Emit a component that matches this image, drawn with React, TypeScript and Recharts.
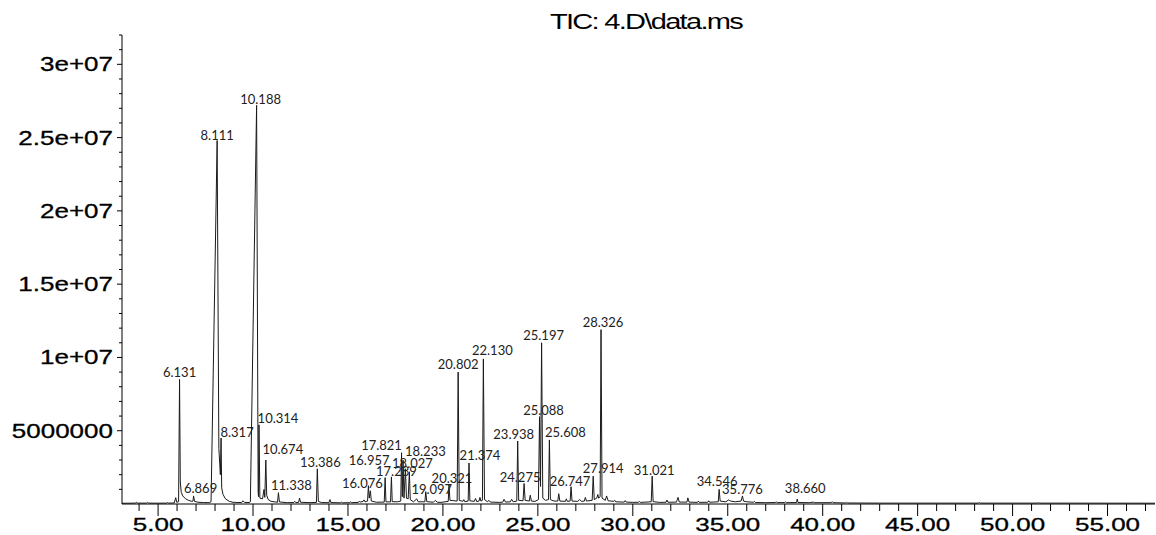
import React from 'react';
import { ComposedChart, Line, Scatter, XAxis, YAxis } from 'recharts';

// TIC trace: [retention time (min), abundance, peak label]
const trace: [number, number, string?][] = [
  [3.1, 50000], [3.8, 60000], [3.85, 120000], [3.9, 60000],
  [4.4, 60000], [4.45, 110000], [4.5, 60000], [5.0, 55000],
  [5.45, 60000], [5.5, 100000], [5.55, 60000],
  [5.85, 70000], [5.93, 430000], [5.98, 120000],
  [6.08, 150000], [6.131, 8500000, '6.131'], [6.17, 1500000], [6.22, 800000], [6.3, 550000],
  [6.45, 350000], [6.6, 250000], [6.78, 180000],
  [6.84, 200000], [6.869, 550000, '6.869'], [6.92, 180000],
  [7.1, 120000], [7.4, 100000], [7.7, 90000],
  [7.79, 150000], [8.111, 24800000, '8.111'], [8.2, 3800000], [8.28, 2000000],
  [8.317, 4500000, '8.317'], [8.35, 1100000], [8.42, 650000], [8.55, 350000], [8.75, 180000],
  [9.0, 100000], [9.05, 130000], [9.1, 100000],
  [9.4, 100000], [9.47, 220000], [9.55, 110000],
  [9.8, 100000], [9.86, 150000], [10.188, 27200000, '10.188'], [10.27, 800000], [10.29, 500000],
  [10.314, 5400000, '10.314'], [10.36, 400000], [10.5, 350000], [10.58, 1000000], [10.62, 450000],
  [10.674, 3000000, '10.674'], [10.72, 600000], [10.8, 300000], [10.95, 180000],
  [11.29, 120000], [11.338, 770000, '11.338'], [11.39, 140000], [11.8, 90000],
  [12.15, 100000], [12.2, 180000], [12.25, 100000],
  [12.4, 110000], [12.45, 400000], [12.5, 120000], [13.0, 90000],
  [13.34, 110000], [13.386, 2400000, '13.386'], [13.44, 180000], [13.6, 100000],
  [14.0, 90000], [14.05, 300000], [14.1, 100000],
  [14.6, 80000], [14.65, 130000], [14.7, 80000],
  [15.1, 90000], [15.15, 150000], [15.2, 90000],
  [15.55, 110000], [15.6, 200000], [15.65, 130000], [15.8, 180000], [15.85, 280000], [15.9, 150000],
  [16.03, 200000], [16.076, 1250000, '16.076'], [16.12, 400000], [16.18, 900000], [16.23, 200000],
  [16.5, 120000],
  [16.91, 130000], [16.957, 1800000, '16.957'], [17.0, 150000],
  [17.24, 140000], [17.289, 1850000, '17.289'], [17.33, 160000], [17.6, 150000],
  [17.78, 200000], [17.821, 3500000, '17.821'], [17.86, 500000], [17.9, 3000000], [17.95, 400000],
  [18.027, 2400000, '18.027'], [18.08, 400000], [18.17, 350000], [18.233, 2200000, '18.233'], [18.28, 300000],
  [18.45, 150000], [18.62, 350000], [18.7, 150000],
  [19.05, 150000], [19.097, 840000, '19.097'], [19.15, 160000],
  [19.5, 120000], [19.6, 250000], [19.7, 120000], [19.9, 110000],
  [20.28, 180000], [20.321, 1300000, '20.321'], [20.37, 250000],
  [20.75, 200000], [20.802, 9000000, '20.802'], [20.86, 250000],
  [21.05, 180000], [21.1, 300000], [21.15, 160000],
  [21.33, 200000], [21.374, 2800000, '21.374'], [21.42, 220000],
  [21.65, 180000], [21.72, 380000], [21.78, 160000],
  [21.9, 200000], [21.95, 450000], [22.0, 200000],
  [22.08, 250000], [22.13, 9900000, '22.130'], [22.19, 300000],
  [22.35, 150000], [22.42, 250000], [22.5, 130000], [23.0, 110000],
  [23.15, 130000], [23.22, 320000], [23.3, 130000],
  [23.55, 150000], [23.62, 320000], [23.7, 150000],
  [23.89, 200000], [23.938, 4300000, '23.938'], [23.99, 250000],
  [24.22, 220000], [24.275, 1400000, '24.275'], [24.33, 250000],
  [24.55, 200000], [24.6, 600000], [24.66, 200000], [24.85, 180000],
  [25.03, 300000], [25.088, 5960000, '25.088'], [25.14, 1200000], [25.197, 11000000, '25.197'], [25.26, 400000],
  [25.4, 250000],
  [25.56, 300000], [25.608, 4370000, '25.608'], [25.66, 300000], [25.85, 200000],
  [26.05, 200000], [26.1, 700000], [26.16, 200000],
  [26.45, 180000], [26.5, 350000], [26.55, 180000],
  [26.7, 200000], [26.747, 1180000, '26.747'], [26.8, 200000],
  [27.1, 180000], [27.2, 300000], [27.3, 180000],
  [27.45, 200000], [27.5, 450000], [27.56, 200000],
  [27.86, 250000], [27.914, 1900000, '27.914'], [27.97, 300000],
  [28.1, 400000], [28.16, 650000], [28.2, 400000],
  [28.28, 500000], [28.326, 11900000, '28.326'], [28.38, 400000],
  [28.55, 250000], [28.62, 550000], [28.7, 220000],
  [29.0, 180000], [29.05, 250000], [29.1, 150000],
  [29.55, 130000], [29.6, 230000], [29.65, 130000],
  [30.0, 110000], [30.3, 120000], [30.35, 180000], [30.4, 110000],
  [30.97, 150000], [31.021, 1900000, '31.021'], [31.07, 160000], [31.4, 110000],
  [31.75, 120000], [31.8, 270000], [31.85, 120000],
  [32.3, 130000], [32.38, 450000], [32.45, 130000],
  [32.85, 130000], [32.9, 420000], [32.96, 130000],
  [33.4, 110000], [33.45, 200000], [33.5, 110000],
  [33.95, 120000], [34.0, 220000], [34.05, 120000],
  [34.5, 150000], [34.546, 1000000, '34.546'], [34.6, 200000],
  [34.9, 150000], [35.05, 280000], [35.15, 200000], [35.4, 150000],
  [35.7, 200000], [35.776, 550000, '35.776'], [35.83, 200000],
  [36.0, 150000], [36.35, 120000], [36.4, 180000], [36.45, 100000],
  [37.0, 90000], [37.5, 100000], [37.55, 150000], [37.6, 90000],
  [38.0, 100000], [38.05, 140000], [38.1, 90000],
  [38.62, 100000], [38.66, 340000, '38.660'], [38.7, 100000],
  [39.3, 90000], [39.5, 130000], [39.55, 90000],
  [40.45, 90000], [40.5, 160000], [40.55, 90000],
  [41.2, 70000], [41.25, 110000], [41.3, 70000], [43.0, 60000],
  [48.2, 60000], [48.25, 100000], [48.3, 60000],
  [51.3, 60000], [51.35, 90000], [51.4, 60000], [57.5, 55000],
];

const xMajorTicks = [5, 10, 15, 20, 25, 30, 35, 40, 45, 50, 55];
const xTickLabels = ['5.00', '10.00', '15.00', '20.00', '25.00', '30.00', '35.00', '40.00', '45.00', '50.00', '55.00'];
const yMajorTicks = [5000000, 10000000, 15000000, 20000000, 25000000, 30000000];
const yTickLabels = ['5000000', '1e+07', '1.5e+07', '2e+07', '2.5e+07', '3e+07'];

// label nudges in px [dx, dy] from the peak apex, as the software placed them
const labelNudge: Record<string, [number, number]> = {
  '6.131': [0, -2], '6.869': [7, -3], '8.111': [0, -1], '8.317': [16, -1],
  '10.188': [4, -1], '10.314': [19, -2], '10.674': [17, -6], '11.338': [13, -3],
  '13.386': [3, -2], '16.076': [-6, 2], '16.957': [-16, -13], '17.289': [5, -1],
  '17.821': [-20, -3], '18.027': [7, -1], '18.233': [16, -16], '19.097': [6, 2],
  '20.321': [3, -2], '20.802': [0, -3], '21.374': [11, -3], '22.130': [9, -4],
  '23.938': [-4, -2], '24.275': [-4, -1], '25.088': [4, -2], '25.197': [2, -3],
  '25.608': [16, -3], '26.747': [-1, -1], '27.914': [10, -3], '28.326': [2, -3],
  '31.021': [2, -1], '34.546': [-2, -3], '35.776': [0, -2], '38.660': [8, -6],
};

const data = trace.map(([t, v]) => ({ t, v }));
const peaks = trace.filter((p) => p[2]).map(([t, v, name]) => ({ t, v, name }));

const xTicks = Array.from({ length: 54 }, (_, i) => i + 4);
const yTicks = Array.from({ length: 33 }, (_, i) => i * 1000000);

const axisFont = '"Liberation Sans", Arial, sans-serif';

const XTick = (props: any) => {
  const { x, y, payload } = props;
  const i = xMajorTicks.indexOf(payload.value);
  const major = i >= 0;
  return (
    <g>
      <line x1={x} y1={y} x2={x} y2={y + (major ? 12 : 7)} stroke="#000" strokeWidth={1} />
      {major && (
        <text transform={`translate(${x},${y + 27}) scale(1.37,1)`} textAnchor="middle"
          fontFamily={axisFont} fontSize={19} fill="#000" stroke="#000" strokeWidth={0.3}>
          {xTickLabels[i]}
        </text>
      )}
    </g>
  );
};

const YTick = (props: any) => {
  const { x, y, payload } = props;
  const i = yMajorTicks.indexOf(payload.value);
  const major = i >= 0;
  return (
    <g>
      {payload.value > 0 && (
        <line x1={x - (major ? 5 : 3)} y1={y} x2={x} y2={y} stroke="#000" strokeWidth={1} />
      )}
      {major && (
        <text transform={`translate(${x - 9},${y + 7}) scale(1.3,1)`} textAnchor="end"
          fontFamily={axisFont} fontSize={20} fill="#000" stroke="#000" strokeWidth={0.3}>
          {yTickLabels[i]}
        </text>
      )}
    </g>
  );
};

const PeakLabel = (props: any) => {
  const { cx, cy, payload } = props;
  const [dx, dy] = labelNudge[payload.name] || [0, -2];
  return (
    <text x={cx + dx} y={cy + dy} textAnchor="middle" fontFamily="Lato, sans-serif" fontSize={13} fill="#222">
      {payload.name}
    </text>
  );
};

export default function App() {
  return (
    <div style={{ width: 1156, height: 535, position: 'relative', background: '#fff' }}>
      <style>{'body{margin:0}'}</style>
      <div style={{
        position: 'absolute', left: 0, width: 1292, top: 10, textAlign: 'center',
        fontFamily: axisFont, fontSize: 22, letterSpacing: -1.3, transform: 'scaleX(1.32)',
        transformOrigin: '646px 0', color: '#000', lineHeight: '24px',
      }}>
        TIC: 4.D\data.ms
      </div>
      <ComposedChart width={1156} height={535} data={data}
        margin={{ top: 35, right: 1, bottom: 0, left: 0 }}>
        <XAxis dataKey="t" type="number" domain={[3.1, 57.5]} allowDataOverflow ticks={xTicks}
          interval={0} tickSize={0} tickMargin={0} height={31} tick={<XTick />}
          axisLine={{ stroke: '#000' }} tickLine={false} />
        <YAxis type="number" domain={[0, 32000000]} allowDataOverflow ticks={yTicks}
          interval={0} tickSize={0} tickMargin={0} width={122} tick={<YTick />}
          axisLine={{ stroke: '#000' }} tickLine={false} />
        <Line type="linear" dataKey="v" stroke="#1a1a1a" strokeWidth={1} dot={false}
          isAnimationActive={false} />
        <Scatter data={peaks} dataKey="v" shape={<PeakLabel />} isAnimationActive={false} />
      </ComposedChart>
    </div>
  );
}
